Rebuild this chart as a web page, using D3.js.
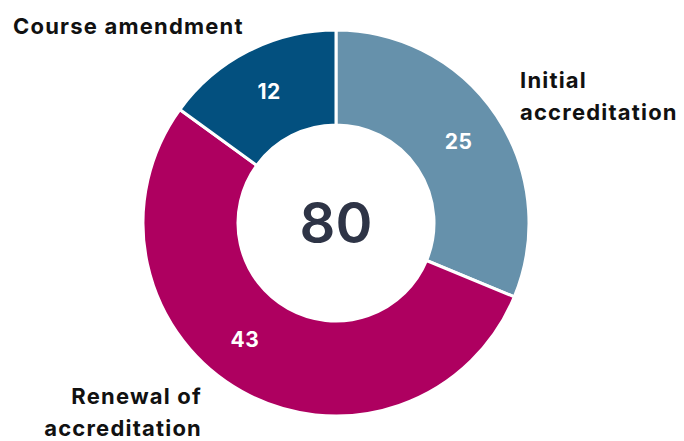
<!DOCTYPE html>
<html>
<head>
<meta charset="utf-8">
<script src="https://cdn.jsdelivr.net/npm/d3@7"></script>
<style>
  body { margin: 0; background: #fff; }
  svg { display: block; font-family: Inter, "Open Sans", sans-serif; }
</style>
</head>
<body>
<svg id="chart"></svg>
<script>
// donut: accreditation applications by type
const categories = ['Initial accreditation', 'Renewal of accreditation', 'Course amendment'];
const counts = [25, 43, 12];
const colours = ['#6691ab', '#ae0060', '#03507f'];
// outside label lines, split as in the original
const labelLines = [['Initial', 'accreditation'], ['Renewal of', 'accreditation'], ['Course amendment']];

const width = 684;
const height = 441;
const cx = 336, cy = 223;
const outerR = 193, innerR = 98;

const svg = d3.select('#chart')
  .attr('width', width)
  .attr('height', height);

const g = svg.append('g')
  .attr('transform', `translate(${cx}, ${cy})`);

const pie = d3.pie().sort(null).value(d => d);
const arcs = pie(counts);

const arc = d3.arc().innerRadius(innerR).outerRadius(outerR);

g.selectAll('path')
  .data(arcs)
  .enter().append('path')
  .attr('d', arc)
  .attr('fill', (d, i) => colours[i])
  .attr('stroke', '#fff')
  .attr('stroke-width', 3)
  .attr('stroke-linejoin', 'miter');

// value labels inside the ring (renewal label sits a bit further round)
const labelShift = [0, 0.155, 0];
const midR = (innerR + outerR) / 2;
g.selectAll('.val')
  .data(arcs)
  .enter().append('text')
  .attr('class', 'val')
  .attr('transform', (d, i) => {
    const a = (d.startAngle + d.endAngle) / 2 + labelShift[i];
    return `translate(${Math.sin(a) * (midR + 2)}, ${-Math.cos(a) * (midR + 2)})`;
  })
  .attr('text-anchor', 'middle')
  .attr('dy', '0.36em')
  .attr('fill', '#fff')
  .attr('font-size', 21)
  .attr('font-weight', 700)
  .attr('letter-spacing', 0.5)
  .text(d => d.value);

// total in the hole
g.append('text')
  .attr('text-anchor', 'middle')
  .attr('dy', '0.36em')
  .attr('fill', '#2e3446')
  .attr('font-size', 56)
  .attr('font-weight', 600)
  .text(d3.sum(counts));

// category labels outside
const labelPos = [
  { x: 520, y: 88, anchor: 'start' },
  { x: 202, y: 404, anchor: 'end' },
  { x: 13, y: 34, anchor: 'start' }
];

labelLines.forEach((lines, i) => {
  const t = svg.append('text')
    .attr('x', labelPos[i].x)
    .attr('y', labelPos[i].y)
    .attr('text-anchor', labelPos[i].anchor)
    .attr('font-size', 22)
    .attr('font-weight', 700)
    .attr('letter-spacing', 1.2)
    .attr('fill', '#111');
  lines.forEach((line, j) => {
    t.append('tspan')
      .attr('x', labelPos[i].x)
      .attr('dy', j === 0 ? 0 : 32)
      .text(line);
  });
});
</script>
</body>
</html>
